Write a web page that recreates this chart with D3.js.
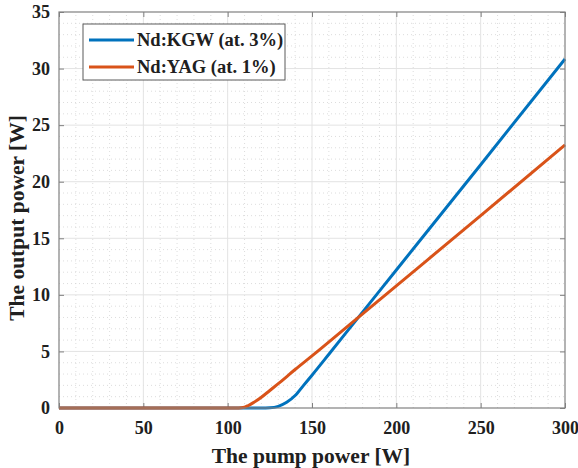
<!DOCTYPE html>
<html>
<head>
<meta charset="utf-8">
<script src="https://cdn.jsdelivr.net/npm/d3@7"></script>
<style>
  body { margin: 0; background: #fff; }
  text { font-family: 'Liberation Serif', 'Times New Roman', serif; font-weight: bold; fill: #202020; }
</style>
</head>
<body>
<div id="chart"></div>
<script>
// values
const kgwPump = [0, 50, 100, 120, 125, 130, 135, 140, 145, 150, 160, 175, 200, 250, 300]
const kgwOutput = [0, 0, 0, 0, 0.02, 0.15, 0.5, 1.1, 2.0, 2.9, 4.75, 7.55, 12.2, 21.5, 30.85]
const yagPump = [0, 50, 100, 105, 108, 110, 112, 115, 120, 125, 130, 140, 150, 175, 200, 250, 300]
const yagOutput = [0, 0, 0, 0, 0.02, 0.07, 0.2, 0.45, 0.95, 1.55, 2.15, 3.4, 4.6, 7.7, 10.8, 17.0, 23.25]
const seriesNames = ['Nd:KGW (at. 3%)', 'Nd:YAG (at. 1%)']
const xTicks = [0, 50, 100, 150, 200, 250, 300]
const yTicks = [0, 5, 10, 15, 20, 25, 30, 35]

function drawChart () {
  const width = 578
  const height = 468
  const margin = { top: 12, right: 13, bottom: 60, left: 59 }
  const colors = ['#0072BD', '#D95319']
  const series = [
    kgwPump.map((p, i) => ({ x: p, y: kgwOutput[i] })),
    yagPump.map((p, i) => ({ x: p, y: yagOutput[i] }))
  ]

  const svg = d3.select('#chart')
    .append('svg')
    .attr('width', width)
    .attr('height', height)

  const x = d3.scaleLinear().domain([0, 300]).range([margin.left, width - margin.right])
  const y = d3.scaleLinear().domain([0, 35]).range([height - margin.bottom, margin.top])

  // minor grid
  const g = svg.append('g')
  g.selectAll('.xminor')
    .data(d3.range(10, 300, 10).filter(v => v % 50 !== 0))
    .enter().append('line')
    .attr('x1', d => x(d)).attr('x2', d => x(d))
    .attr('y1', y(0)).attr('y2', y(35))
    .attr('stroke', '#d4d4d4').attr('stroke-width', 0.8).attr('stroke-dasharray', '1,3')
  g.selectAll('.yminor')
    .data(d3.range(1, 35, 1).filter(v => v % 5 !== 0))
    .enter().append('line')
    .attr('x1', x(0)).attr('x2', x(300))
    .attr('y1', d => y(d)).attr('y2', d => y(d))
    .attr('stroke', '#d4d4d4').attr('stroke-width', 0.8).attr('stroke-dasharray', '1,3')
  // major grid
  g.selectAll('.xmajor')
    .data(xTicks.slice(1, -1))
    .enter().append('line')
    .attr('x1', d => x(d)).attr('x2', d => x(d))
    .attr('y1', y(0)).attr('y2', y(35))
    .attr('stroke', '#e3e3e3').attr('stroke-width', 1)
  g.selectAll('.ymajor')
    .data(yTicks.slice(1, -1))
    .enter().append('line')
    .attr('x1', x(0)).attr('x2', x(300))
    .attr('y1', d => y(d)).attr('y2', d => y(d))
    .attr('stroke', '#e3e3e3').attr('stroke-width', 1)

  // axes with inner ticks
  const axisStyle = sel => {
    sel.select('.domain').remove()
    sel.selectAll('.tick line').attr('stroke', '#808080')
    sel.selectAll('.tick text').attr('font-size', '18px').attr('fill', '#202020')
      .attr('font-family', "'Liberation Serif', serif").attr('font-weight', 'bold')
  }
  svg.append('g')
    .attr('transform', `translate(0,${y(0)})`)
    .call(d3.axisBottom(x).tickValues(xTicks).tickSize(-5).tickPadding(13))
    .call(axisStyle)
  svg.append('g')
    .attr('transform', `translate(0,${y(35)})`)
    .call(d3.axisTop(x).tickValues(xTicks).tickSize(-5).tickFormat(''))
    .call(axisStyle)
  svg.append('g')
    .attr('transform', `translate(${x(0)},0)`)
    .call(d3.axisLeft(y).tickValues(yTicks).tickSize(-5).tickPadding(9))
    .call(axisStyle)
  svg.append('g')
    .attr('transform', `translate(${x(300)},0)`)
    .call(d3.axisRight(y).tickValues(yTicks).tickSize(-5).tickFormat(''))
    .call(axisStyle)

  // lines
  const line = d3.line()
    .x(d => x(d.x))
    .y(d => y(d.y))
    .curve(d3.curveMonotoneX)
  svg.selectAll('.series')
    .data(series)
    .enter().append('path')
    .attr('d', line)
    .attr('fill', 'none')
    .attr('stroke', (d, i) => colors[i])
    .attr('stroke-width', 3)

  // box
  svg.append('rect')
    .attr('x', x(0)).attr('y', y(35))
    .attr('width', x(300) - x(0)).attr('height', y(0) - y(35))
    .attr('fill', 'none').attr('stroke', '#808080').attr('stroke-width', 1.2)

  // axis titles
  svg.append('text')
    .attr('x', 311).attr('y', 463)
    .attr('text-anchor', 'middle').attr('font-size', '21.5px')
    .text('The pump power [W]')
  svg.append('text')
    .attr('transform', `translate(24,${(y(0) + y(35)) / 2 + 8}) rotate(-90)`)
    .attr('text-anchor', 'middle').attr('font-size', '21.5px')
    .text('The output power [W]')

  // legend
  const legend = svg.append('g').attr('transform', 'translate(83,24)')
  legend.append('rect')
    .attr('width', 202).attr('height', 56)
    .attr('fill', '#fff').attr('stroke', '#5a5a5a').attr('stroke-width', 1)
  const rows = legend.selectAll('.row')
    .data(seriesNames)
    .enter().append('g')
    .attr('transform', (d, i) => `translate(0,${16 + i * 27})`)
  rows.append('line')
    .attr('x1', 6).attr('x2', 51)
    .attr('stroke', (d, i) => colors[i]).attr('stroke-width', 3)
  rows.append('text')
    .attr('x', 54).attr('dy', '0.35em')
    .attr('font-size', '18.5px')
    .text(d => d)
}

drawChart()
</script>
</body>
</html>
